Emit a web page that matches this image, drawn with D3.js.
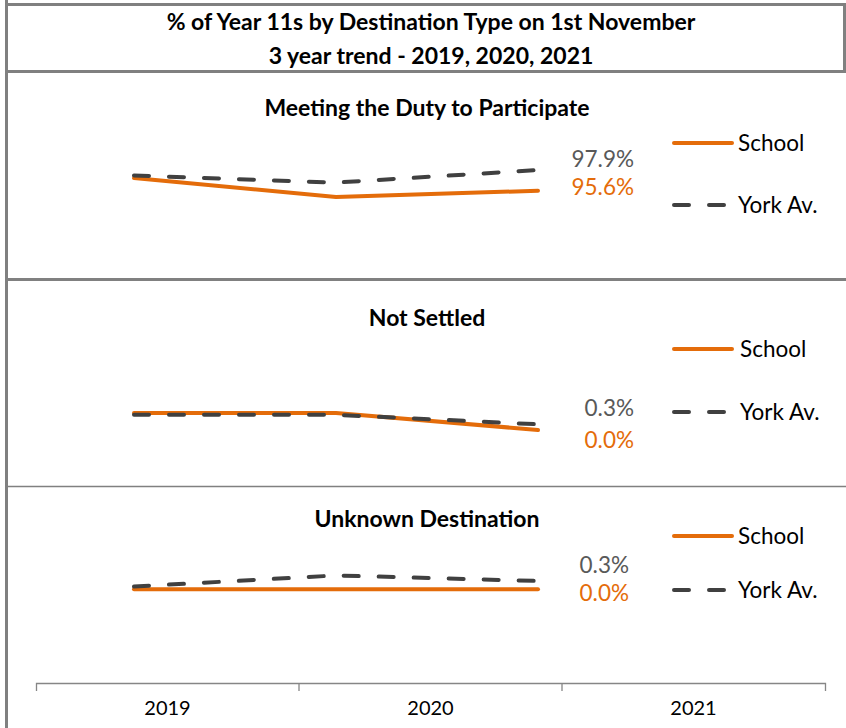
<!DOCTYPE html>
<html>
<head>
<meta charset="utf-8">
<script src="https://cdn.jsdelivr.net/npm/d3@7"></script>
<style>
  body { margin: 0; background: #fff; }
  svg { display: block; font-family: Lato, "Open Sans", sans-serif; }
</style>
</head>
<body>
<script>
// Data
const years = ["2019", "2020", "2021"];
const titleLines = ["% of Year 11s by Destination Type on 1st November", "3 year trend - 2019, 2020, 2021"];
const panelTitles = ["Meeting the Duty to Participate", "Not Settled", "Unknown Destination"];
const schoolValues = [[97.0, 94.9, 95.6], [0.9, 0.9, 0.0], [0.0, 0.0, 0.0]];
const yorkValues = [[97.3, 96.5, 97.9], [0.8, 0.8, 0.3], [0.1, 0.5, 0.3]];
const seriesNames = ["School", "York Av."];

const width = 846, height = 728;
const orange = "#E46C0A", dark = "#404040", labelGrey = "#595959", border = "#808080";

// Panel layout (pixel positions of each small chart)
const panels = [
  { titleY: 116, domain: [90, 100], range: [241.1, 151.1], legendY: [143, 205], labelDy: [-3, 4], labelX: 634 },
  { titleY: 326, domain: [0, 2], range: [430, 392], legendY: [349, 412], labelDy: [-8, 18], labelX: 634 },
  { titleY: 527, domain: [0, 1], range: [589.3, 561.6], legendY: [536, 590], labelDy: [-8, 12], labelX: 629 }
];

const svg = d3.select("body").append("svg")
  .attr("width", width)
  .attr("height", height);

// Frame lines
const frame = svg.append("g").attr("stroke", border).attr("fill", "none");
frame.append("line").attr("x1", 6.5).attr("x2", 6.5).attr("y1", 0).attr("y2", height).attr("stroke-width", 3);
frame.append("line").attr("x1", 5).attr("x2", 846).attr("y1", 4.5).attr("y2", 4.5).attr("stroke-width", 3);
frame.append("line").attr("x1", 844.5).attr("x2", 844.5).attr("y1", 3).attr("y2", 73).attr("stroke-width", 3);
frame.append("line").attr("x1", 5).attr("x2", 846).attr("y1", 71.5).attr("y2", 71.5).attr("stroke-width", 3);
frame.append("line").attr("x1", 5).attr("x2", 846).attr("y1", 279.5).attr("y2", 279.5).attr("stroke-width", 3);
frame.append("line").attr("x1", 8).attr("x2", 846).attr("y1", 486.5).attr("y2", 486.5).attr("stroke-width", 1.5);

// Main title
svg.append("g").selectAll("text")
  .data(titleLines)
  .join("text")
  .attr("x", 431)
  .attr("y", (d, i) => 30 + i * 34)
  .attr("text-anchor", "middle")
  .attr("font-weight", "bold")
  .attr("font-size", 23)
  .attr("fill", "#000")
  .text(d => d);

const x = d3.scalePoint(years, [134, 538]);

panels.forEach((p, i) => {
  const y = d3.scaleLinear(p.domain, p.range);
  const g = svg.append("g");

  g.append("text")
    .attr("x", 427)
    .attr("y", p.titleY)
    .attr("text-anchor", "middle")
    .attr("font-weight", "bold")
    .attr("font-size", 23)
    .text(panelTitles[i]);

  const line = d3.line()
    .x((d, j) => x(years[j]))
    .y(d => y(d));

  g.append("path")
    .datum(schoolValues[i])
    .attr("d", line)
    .attr("fill", "none")
    .attr("stroke", orange)
    .attr("stroke-width", 4)
    .attr("stroke-linecap", "round")
    .attr("stroke-linejoin", "round");

  g.append("path")
    .datum(yorkValues[i])
    .attr("d", line)
    .attr("fill", "none")
    .attr("stroke", dark)
    .attr("stroke-width", 4)
    .attr("stroke-dasharray", "15 20")
    .attr("stroke-linecap", "round");

  // last-value labels
  const last = years.length - 1;
  g.append("text")
    .attr("x", p.labelX)
    .attr("y", y(yorkValues[i][last]) + p.labelDy[0])
    .attr("text-anchor", "end")
    .attr("font-size", 22.5)
    .attr("fill", labelGrey)
    .text(yorkValues[i][last].toFixed(1) + "%");
  g.append("text")
    .attr("x", p.labelX)
    .attr("y", y(schoolValues[i][last]) + p.labelDy[1])
    .attr("text-anchor", "end")
    .attr("font-size", 22.5)
    .attr("fill", orange)
    .text(schoolValues[i][last].toFixed(1) + "%");

  // legend
  const legend = g.append("g");
  legend.append("line")
    .attr("x1", 674).attr("x2", 732)
    .attr("y1", p.legendY[0]).attr("y2", p.legendY[0])
    .attr("stroke", orange).attr("stroke-width", 4).attr("stroke-linecap", "round");
  legend.append("line")
    .attr("x1", 674).attr("x2", 727)
    .attr("y1", p.legendY[1]).attr("y2", p.legendY[1])
    .attr("stroke", dark).attr("stroke-width", 4)
    .attr("stroke-dasharray", "15 20").attr("stroke-linecap", "round");
  legend.selectAll("text")
    .data(seriesNames)
    .join("text")
    .attr("x", 738 + (i === 1 ? 2 : 0))
    .attr("y", (d, k) => p.legendY[k] + 8)
    .attr("font-size", 22.5)
    .attr("fill", "#000")
    .text(d => d);
});

// Bottom category axis
const band = d3.scaleBand(years, [36, 825]);
const axis = svg.append("g")
  .attr("transform", "translate(0,683)")
  .call(d3.axisBottom(band).tickSize(0).tickSizeOuter(8).tickPadding(18));
axis.select(".domain").attr("stroke", "#868686").attr("stroke-width", 1.3);
axis.selectAll(".tick text")
  .attr("font-family", "Lato, sans-serif")
  .attr("font-size", 20)
  .attr("fill", "#000");
axis.selectAll(".sep")
  .data(years.slice(1))
  .join("line")
  .attr("class", "sep")
  .attr("x1", d => band(d)).attr("x2", d => band(d))
  .attr("y1", 0).attr("y2", 8)
  .attr("stroke", "#868686").attr("stroke-width", 1.3);
</script>
</body>
</html>
